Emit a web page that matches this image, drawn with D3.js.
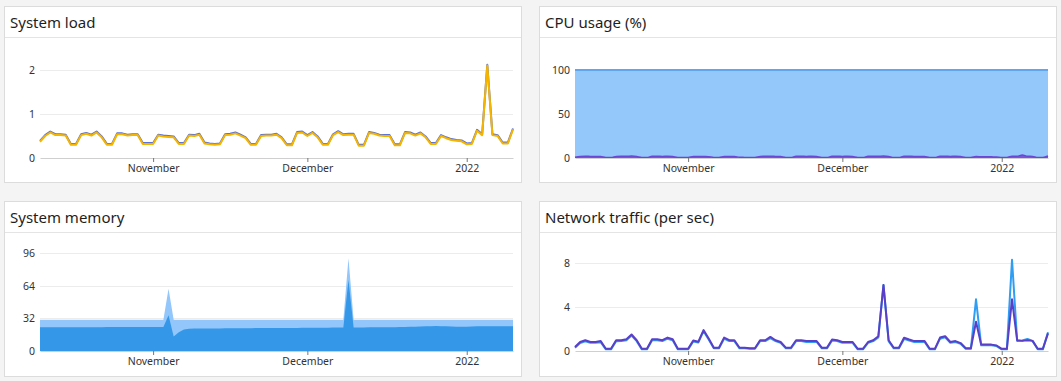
<!DOCTYPE html>
<html><head><meta charset="utf-8">
<script src="https://cdn.jsdelivr.net/npm/d3@7"></script>
<style>
body{margin:0;background:#f4f4f4;font-family:"Noto Sans",sans-serif;}
svg{display:block}
</style></head><body>
<svg id="c" width="1061" height="381"></svg>
<script>
// ---- data ----
const startDay = "2021-10-10";
const dayCount = 93;
const xTickDates = ["2021-11-01", "2021-12-01", "2022-01-01"];
const xTickLabels = ["November", "December", "2022"];
const titles = ["System load", "CPU usage (%)", "System memory", "Network traffic (per sec)"];

const loadTicks = [0, 1, 2];
const cpuTicks = [0, 50, 100];
const memTicks = [0, 32, 64, 96];
const netTicks = [0, 4, 8];

const loadA = [0.37,
 0.5,0.58,0.52,0.52,0.51, 0.3,0.3,
 0.52,0.55,0.51,0.58,0.47, 0.3,0.3,
 0.54,0.54,0.51,0.52,0.52, 0.32,0.32,0.32,
 0.51,0.49,0.48,0.47, 0.32,0.32,
 0.51,0.5,0.53, 0.33,0.31,0.3,0.31,
 0.52,0.53,0.56,0.51,0.45, 0.3,0.3,
 0.5,0.51,0.51,0.53,0.45, 0.29,0.29,
 0.57,0.58,0.5,0.57,0.47, 0.3,0.3,
 0.52,0.59,0.52,0.53,0.53, 0.28,0.28,
 0.57,0.55,0.51,0.5,0.5, 0.29,0.29,
 0.57,0.56,0.51,0.56,0.47, 0.32,0.32,
 0.5,0.45,0.41,0.39,0.38, 0.31,0.32,
 0.62,0.52,2.1,0.52,0.5, 0.33,0.33,
 0.65];
const loadB = [0.39,
 0.52,0.6,0.54,0.54,0.53, 0.32,0.32,
 0.54,0.57,0.53,0.6,0.49, 0.32,0.32,
 0.56,0.56,0.53,0.54,0.54, 0.34,0.34,0.34,
 0.53,0.51,0.5,0.49, 0.34,0.34,
 0.53,0.52,0.55, 0.35,0.33,0.32,0.33,
 0.54,0.55,0.58,0.53,0.47, 0.32,0.32,
 0.52,0.53,0.53,0.55,0.47, 0.31,0.31,
 0.59,0.6,0.52,0.59,0.49, 0.32,0.32,
 0.54,0.61,0.54,0.55,0.55, 0.3,0.3,
 0.59,0.57,0.53,0.52,0.52, 0.31,0.31,
 0.59,0.58,0.53,0.58,0.49, 0.34,0.34,
 0.52,0.47,0.43,0.41,0.4, 0.33,0.34,
 0.64,0.54,2.12,0.54,0.52, 0.35,0.35,
 0.67];

const cpuUser = [0.8,
 1.6,2.0,1.8,1.7,1.6, 0.6,0.6,
 1.8,2.1,2.0,2.2,1.7, 0.6,0.6,
 1.9,2.0,1.8,1.9,1.6, 0.6,0.6,0.7,
 1.8,1.7,1.6,1.5, 0.6,0.6,
 1.8,1.7,1.8, 0.8,0.7,0.6,0.6,
 1.8,1.9,2.0,1.8,1.6, 0.6,0.6,
 1.9,1.9,1.8,1.9,1.6, 0.6,0.6,
 2.0,2.1,1.8,2.0,1.7, 0.6,0.6,
 1.9,2.1,1.9,2.2,1.8, 0.6,0.6,
 2.0,1.9,1.8,1.8,1.7, 0.6,0.6,
 2.0,2.0,1.8,2.0,1.6, 0.6,0.6,
 1.6,1.5,1.4,1.3,1.2, 0.6,0.6,
 2.1,1.9,3.4,2.0,1.8, 0.6,0.6,
 2.3];
const cpuIdle = [99.2,
 98.4,98.0,98.2,98.3,98.4, 99.4,99.4,
 98.2,97.9,98.0,97.8,98.3, 99.4,99.4,
 98.1,98.0,98.2,98.1,98.4, 99.4,99.4,99.3,
 98.2,98.3,98.4,98.5, 99.4,99.4,
 98.2,98.3,98.2, 99.2,99.3,99.4,99.4,
 98.2,98.1,98.0,98.2,98.4, 99.4,99.4,
 98.1,98.1,98.2,98.1,98.4, 99.4,99.4,
 98.0,97.9,98.2,98.0,98.3, 99.4,99.4,
 98.1,97.9,98.1,97.8,98.2, 99.4,99.4,
 98.0,98.1,98.2,98.2,98.3, 99.4,99.4,
 98.0,98.0,98.2,98.0,98.4, 99.4,99.4,
 98.4,98.5,98.6,98.7,98.8, 99.4,99.4,
 97.9,98.1,96.6,98.0,98.2, 99.4,99.4,
 97.7];

const memCached = [30.8,30.8,30.8,30.8,30.8,30.8,30.8,30.8,30.8,30.8,
 30.8,30.8,30.8,30.8,30.8,30.8,30.8,30.8,30.8,30.8,
 30.8,30.8,30.8,30.8,30.8,61,30.8,30.8,30.8,30.8,
 30.8,30.8,30.8,30.8,30.8,30.8,30.8,30.8,30.8,30.8,
 30.8,30.8,30.8,30.8,30.8,30.8,30.8,30.8,30.8,30.8,
 30.8,30.8,30.8,30.8,30.8,30.8,30.8,30.8,30.8,30.8,
 91,30.8,30.8,30.8,30.8,30.8,30.8,30.8,30.8,30.8,
 30.8,30.8,30.8,30.8,30.8,30.8,30.8,30.8,30.8,30.8,
 30.8,30.8,30.8,30.8,30.8,30.8,30.8,30.8,30.8,30.8,
 30.8,30.8,30.8];
const memUsed = [23.2,23.3,23.3,23.2,23.3,23.3,23.3,23.3,23.4,23.4,
 23.4,23.4,23.4,23.5,23.5,23.5,23.5,23.5,23.5,23.6,
 23.6,23.6,23.6,23.6,23.6,35,14.3,18.5,21,21.8,
 22.0,22.1,22.1,22.2,22.2,22.2,22.3,22.3,22.3,22.4,
 22.4,22.4,22.5,22.5,22.5,22.6,22.6,22.6,22.7,22.7,
 22.7,22.8,22.8,22.8,22.9,22.9,22.9,23.0,23.0,23.0,
 70,23.1,23.1,23.1,23.2,23.2,23.2,23.3,23.3,23.4,
 23.5,23.6,23.7,23.8,24.0,24.2,24.4,24.5,24.4,24.2,
 24.0,23.9,23.9,23.9,24.0,24.2,24.4,24.4,24.3,24.2,
 24.2,24.3,24.3];

const netOut = [0.37,
 0.82,0.98,0.82,0.82,0.9, 0.2,0.2,
 0.98,0.98,1.07,1.5,0.98, 0.2,0.2,
 1.07,1.07,0.98,1.22,1.07, 0.2,0.2,0.2,
 0.95,0.85,1.9,1.13, 0.3,0.3,
 1.22,0.98,0.98, 0.3,0.3,0.25,0.25,
 0.98,0.98,1.28,0.98,0.82, 0.3,0.3,
 0.98,0.98,0.9,0.9,0.9, 0.3,0.3,
 1.04,0.98,0.82,0.82,0.82, 0.2,0.2,
 0.82,0.98,1.34,6.0,0.98, 0.3,0.3,
 1.2,1.04,0.9,0.9,0.9, 0.2,0.2,
 1.22,1.34,0.82,0.9,0.72, 0.25,0.25,
 2.66,0.58,0.58,0.58,0.5, 0.2,0.2,
 4.7,0.98,0.92,0.98,0.92, 0.2,0.2,
 1.6];
const netIn = [0.3,
 0.72,0.88,0.74,0.74,0.8, 0.15,0.15,
 0.88,0.9,0.98,1.4,0.9, 0.15,0.15,
 0.98,0.98,0.9,1.12,0.98, 0.15,0.15,0.15,
 0.86,0.78,1.8,1.04, 0.24,0.24,
 1.12,0.9,0.9, 0.24,0.24,0.2,0.2,
 0.9,0.9,1.18,0.9,0.74, 0.24,0.24,
 0.9,0.9,0.82,0.82,0.82, 0.24,0.24,
 0.96,0.9,0.74,0.74,0.74, 0.15,0.15,
 0.74,0.9,1.24,6.0,0.9, 0.24,0.24,
 1.1,0.96,0.82,0.82,0.82, 0.15,0.15,
 1.12,1.24,0.74,0.82,0.66, 0.2,0.2,
 4.7,0.52,0.52,0.52,0.45, 0.15,0.15,
 8.3,0.92,0.95,1.1,0.92, 0.15,0.15,
 1.7];

// ---- drawing ----
const parse = d3.timeParse("%Y-%m-%d");
const dates = d3.range(dayCount).map(i => d3.timeDay.offset(parse(startDay), i));
const tickDates = xTickDates.map(parse);

const svg = d3.select("#c");
svg.append("rect").attr("width", 1061).attr("height", 381).attr("fill", "#f4f4f4");

const panels = [
  {x: 4, y: 6, w: 518, h: 177, zero: 158},
  {x: 539, y: 6, w: 518, h: 177, zero: 158},
  {x: 4, y: 201, w: 518, h: 176, zero: 351},
  {x: 539, y: 201, w: 518, h: 176, zero: 351}
];

function frame(p, title) {
  svg.append("rect").attr("x", p.x + 0.5).attr("y", p.y + 0.5)
    .attr("width", p.w - 1).attr("height", p.h - 1)
    .attr("fill", "#fff").attr("stroke", "#dcdcdc");
  svg.append("line").attr("x1", p.x + 1).attr("x2", p.x + p.w - 1)
    .attr("y1", p.y + 31.5).attr("y2", p.y + 31.5).attr("stroke", "#e4e4e4");
  svg.append("text").attr("x", p.x + 6).attr("y", p.y + 22)
    .attr("font-size", 15).attr("fill", "#1e1e1e").text(title);
}

function setup(p, title, yMax, ticks) {
  frame(p, title);
  const x = d3.scaleTime().domain(d3.extent(dates)).range([p.x + 36, p.x + 509]);
  const y = d3.scaleLinear().domain([0, yMax]).range([p.zero, p.zero - 110]);
  const g = svg.append("g");
  // grid
  g.selectAll("line.grid").data(ticks.filter(t => t > 0)).join("line")
    .attr("x1", x.range()[0]).attr("x2", x.range()[1])
    .attr("y1", d => Math.round(y(d)) + 0.5).attr("y2", d => Math.round(y(d)) + 0.5)
    .attr("stroke", "#ececec");
  // y labels
  const ya = g.append("g").attr("transform", `translate(${x.range()[0]},0)`)
    .call(d3.axisLeft(y).tickValues(ticks).tickSize(0).tickPadding(5).tickFormat(d3.format("d")));
  ya.select(".domain").remove();
  ya.selectAll("text").attr("font-size", 10.5).attr("fill", "#333").attr("font-family", "Noto Sans");
  const plot = svg.append("g");
  const top = svg.append("g");
  // x axis
  const xa = top.append("g").attr("transform", `translate(0,${p.zero})`)
    .call(d3.axisBottom(x).tickValues(tickDates).tickSize(4).tickSizeOuter(0).tickPadding(3)
      .tickFormat((d, i) => xTickLabels[i]));
  xa.select(".domain").attr("stroke", "#cfcfcf");
  xa.selectAll(".tick line").attr("stroke", "#777");
  xa.selectAll("text").attr("font-size", 10.5).attr("fill", "#333").attr("font-family", "Noto Sans");
  return {x, y, plot};
}

// System load
{
  const {x, y, plot} = setup(panels[0], titles[0], 2.5, loadTicks);
  const line = arr => d3.line().x((d, i) => x(dates[i])).y(d => y(d))(arr);
  plot.append("path").attr("d", line(loadB)).attr("fill", "none").attr("stroke", "#5b72d6").attr("stroke-width", 2).attr("stroke-linejoin", "round");
  plot.append("path").attr("d", line(loadA)).attr("fill", "none").attr("stroke", "#f4b400").attr("stroke-width", 2).attr("stroke-linejoin", "round");
}
// CPU
{
  const {x, y, plot} = setup(panels[1], titles[1], 125, cpuTicks);
  const rows = dates.map((d, i) => ({date: d, user: cpuUser[i], idle: cpuIdle[i]}));
  const stack = d3.stack().keys(["user", "idle"])(rows);
  const area = d3.area().x(d => x(d.data.date)).y0(d => y(d[0])).y1(d => y(d[1])).curve(d3.curveMonotoneX);
  const lineTop = d3.line().x(d => x(d.data.date)).y(d => y(d[1])).curve(d3.curveMonotoneX);
  plot.append("path").attr("d", area(stack[1])).attr("fill", "#94c8fb");
  plot.append("path").attr("d", lineTop(stack[1])).attr("fill", "none").attr("stroke", "#5ea6f2").attr("stroke-width", 2);
  plot.append("path").attr("d", area(stack[0])).attr("fill", "#7a55dc");
  plot.append("path").attr("d", lineTop(stack[0])).attr("fill", "none").attr("stroke", "#6a46d4").attr("stroke-width", 1.5);
}
// Memory
{
  const {x, y, plot} = setup(panels[2], titles[2], 108, memTicks);
  const area = d3.area().x((d, i) => x(dates[i])).y0(y(0)).y1(d => y(d));
  plot.append("path").attr("d", area(memCached)).attr("fill", "#93c6fa");
  plot.append("path").attr("d", area(memUsed)).attr("fill", "#3597e8");
}
// Network
{
  const {x, y, plot} = setup(panels[3], titles[3], 10, netTicks);
  const line = arr => d3.line().x((d, i) => x(dates[i])).y(d => y(d))(arr);
  plot.append("path").attr("d", line(netIn)).attr("fill", "none").attr("stroke", "#2e9df2").attr("stroke-width", 2).attr("stroke-linejoin", "round");
  plot.append("path").attr("d", line(netOut)).attr("fill", "none").attr("stroke", "#5a3fc7").attr("stroke-width", 2).attr("stroke-linejoin", "round");
}
</script>
</body></html>
